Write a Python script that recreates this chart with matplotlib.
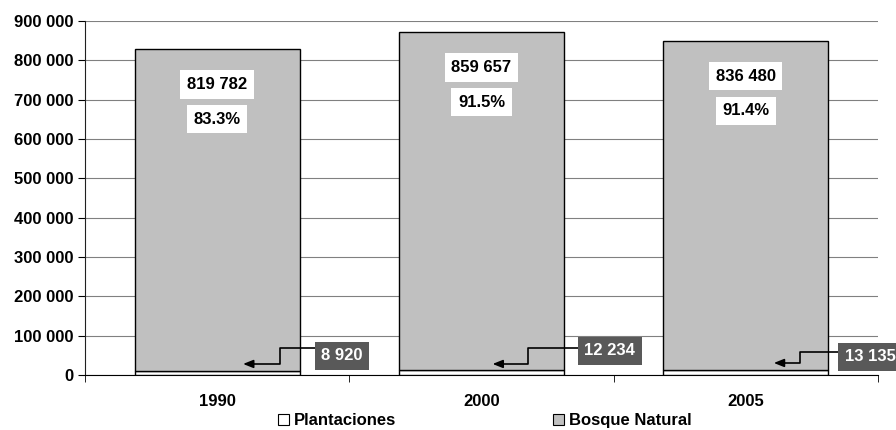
import matplotlib.pyplot as plt
from matplotlib.patches import Patch
from matplotlib.ticker import FuncFormatter

plt.rcParams['font.family'] = ['Liberation Sans', 'DejaVu Sans']
plt.rcParams['font.weight'] = 'bold'
plt.rcParams['font.size'] = 12

years = ["1990", "2000", "2005"]
plantaciones = [8920, 12234, 13135]
bosque = [819782, 859657, 836480]
porcentajes = ["83.3%", "91.5%", "91.4%"]
etiquetas_bosque = ["819 782", "859 657", "836 480"]
etiquetas_plant = ["8 920", "12 234", "13 135"]

fig = plt.figure(figsize=(8.96, 4.30), dpi=100)
ax = fig.add_axes([0.0949, 0.128, 0.885, 0.823])

x = range(len(years))
ax.bar(x, plantaciones, width=0.625, color="white", edgecolor="black", linewidth=1, zorder=3)
ax.bar(x, bosque, bottom=plantaciones, width=0.625, color="#C0C0C0", edgecolor="black",
       linewidth=1, zorder=3)

# etiquetas dentro de las barras
for i in x:
    total = plantaciones[i] + bosque[i]
    ax.text(i, total - 90000, etiquetas_bosque[i], ha="center", va="center", zorder=5,
            bbox=dict(boxstyle="square,pad=0.4", fc="white", ec="none"))
    ax.text(i, total - 178000, porcentajes[i], ha="center", va="center", zorder=5,
            bbox=dict(boxstyle="square,pad=0.4", fc="white", ec="none"))

# flechas hacia plantaciones
flechas = [(0.375, 0.472, 0.239, 0.098, 68600, 28000, 48300),
           (0.367, 0.485, 0.174, 0.042, 68600, 28000, 61000),
           (0.356, 0.470, 0.205, 0.106, 58500, 30500, 45800)]
for i, (bx, cx, vx, tx, y1, y2, yb) in enumerate(flechas):
    ax.plot([i + bx, i + vx, i + vx, i + tx + 0.03], [y1, y1, y2, y2], color="black",
            lw=1.2, zorder=4)
    ax.annotate("", xy=(i + tx, y2), xytext=(i + tx + 0.04, y2), zorder=4,
                arrowprops=dict(arrowstyle="-|>,head_length=0.5,head_width=0.2",
                                color="black", lw=1.2, shrinkA=0, shrinkB=0))
    ax.text(i + cx, yb, etiquetas_plant[i], ha="center", va="center", color="white", zorder=5,
            bbox=dict(boxstyle="square,pad=0.4", fc="#595959", ec="none"), clip_on=False)

ax.set_xlim(-0.5, 2.5)
ax.set_ylim(0, 900000)
ax.set_yticks(range(0, 900001, 100000))
ax.yaxis.set_major_formatter(FuncFormatter(lambda v, p: f"{int(v):,}".replace(",", " ")))
ax.set_xticks(list(x))
ax.set_xticklabels(years)
ax.set_xticks([-0.5, 0.5, 1.5, 2.5], minor=True)
ax.tick_params(axis="x", which="major", length=0, pad=14)
ax.tick_params(axis="x", which="minor", length=5, direction="out")
ax.tick_params(axis="y", length=5, direction="out", pad=3)
ax.grid(axis="y", color="#808080", lw=0.8, zorder=0)
for s in ["top", "right"]:
    ax.spines[s].set_visible(False)
ax.spines["left"].set_color("#202020")

handles = [Patch(fc="white", ec="black", lw=0.8), Patch(fc="#C0C0C0", ec="black", lw=0.8)]
fig.legend(handles, ["Plantaciones", "Bosque Natural"], loc="center", ncol=2,
           bbox_to_anchor=(0.541, 0.022), frameon=False, handlelength=0.65,
           handleheight=0.65, handletextpad=0.3, columnspacing=9.45)

fig.savefig("out.png", dpi=100)
